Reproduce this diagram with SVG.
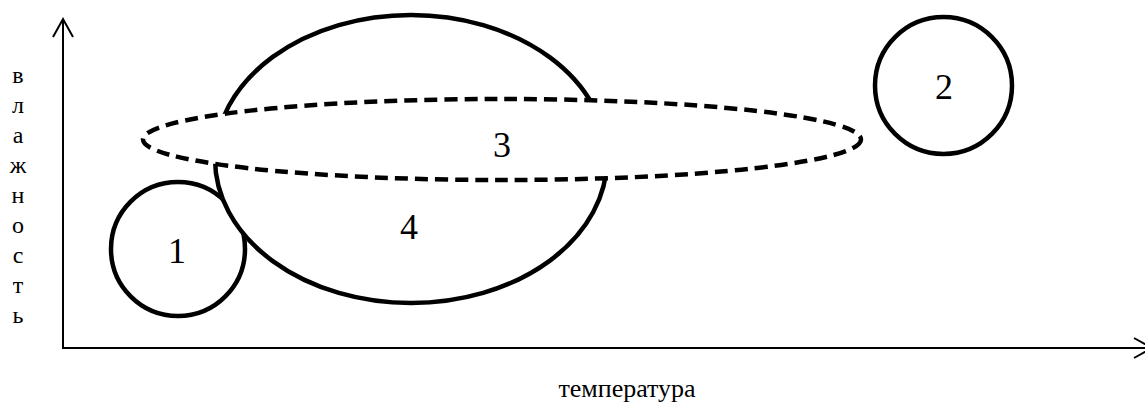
<svg xmlns="http://www.w3.org/2000/svg" width="1145" height="403" viewBox="0 0 1145 403">
<style>
.shape{fill:#fff;stroke:#000;stroke-width:4.5}
.dash{stroke-dasharray:13 7}
.axis{fill:none;stroke:#000;stroke-width:2}
.num{font-size:36px;fill:#000;text-anchor:middle}
.lbl{font-size:24px;fill:#000;text-anchor:middle}
</style>
<rect width="1145" height="403" fill="#fff"/>
<g id="axes">
<polyline class="axis" points="63,19 63,348 1152,348"/>
<polyline class="axis" points="53,37 63,19 73,37"/>
<polyline class="axis" points="1134,338 1152,348 1134,358"/>
</g>
<g id="node1"><circle class="shape" cx="178" cy="249" r="67"/></g>
<g id="node4"><ellipse class="shape" cx="411" cy="159" rx="196" ry="144"/></g>
<g id="node3"><ellipse class="shape dash" cx="502" cy="139.5" rx="359" ry="40.5"/></g>
<g id="node2"><circle class="shape" cx="943.5" cy="85.5" r="68.5"/></g>
<g id="labels" font-family="'Liberation Serif', 'Times New Roman', serif">
<text class="num" x="177" y="263">1</text>
<text class="num" x="944" y="99">2</text>
<text class="num" x="502" y="157">3</text>
<text class="num" x="409" y="239">4</text>
<text class="lbl" x="627" y="397" style="font-size:26px">температура</text>
<text class="lbl" x="18" y="83">в</text>
<text class="lbl" x="18" y="113">л</text>
<text class="lbl" x="18" y="143">а</text>
<text class="lbl" x="18" y="173">ж</text>
<text class="lbl" x="18" y="203">н</text>
<text class="lbl" x="18" y="233">о</text>
<text class="lbl" x="18" y="263">с</text>
<text class="lbl" x="18" y="293">т</text>
<text class="lbl" x="18" y="323">ь</text>
</g>
</svg>
